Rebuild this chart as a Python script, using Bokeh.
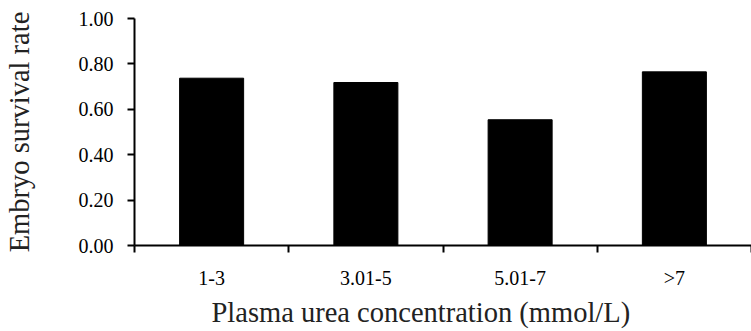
import numpy as np
from bokeh.plotting import figure
from bokeh.models import Range1d, FixedTicker, NumeralTickFormatter, ColumnDataSource, Title
from bokeh.embed import file_html
from bokeh.resources import INLINE

categories = ["1-3", "3.01-5", "5.01-7", ">7"]
survival_rate = [0.737, 0.718, 0.554, 0.765]
y_ticks = [0.0, 0.2, 0.4, 0.6, 0.8, 1.0]
x_title = "Plasma urea concentration (mmol/L)"
y_title = "Embryo survival rate"

FONT = "Liberation Serif"

x_pos = [i + 0.5 for i in range(len(categories))]
src = ColumnDataSource(dict(x=x_pos, top=survival_rate, cat=categories))

p = figure(width=751, height=331, output_backend="svg", toolbar_location=None,
           x_range=Range1d(0, len(categories)), y_range=Range1d(0, 1.0),
           min_border_left=131, min_border_right=0, min_border_top=18, min_border_bottom=86)

p.vbar(x="x", top="top", width=0.415, source=src, fill_color="black", line_color="black", line_width=1)

p.grid.visible = False
p.outline_line_color = None
p.background_fill_color = "white"
p.border_fill_color = "white"

# x axis
xa = p.xaxis[0]
xa.ticker = FixedTicker(ticks=x_pos, minor_ticks=list(range(len(categories) + 1)))
xa.major_label_overrides = {x: c for x, c in zip(x_pos, categories)}
xa.major_tick_line_color = None
xa.minor_tick_line_color = "black"
xa.minor_tick_line_width = 2
xa.minor_tick_out = 7
xa.minor_tick_in = 0
xa.axis_line_width = 2
xa.axis_line_color = "black"
xa.major_label_text_font = FONT
xa.major_label_text_font_size = "20px"
xa.major_label_text_color = "black"
xa.major_label_standoff = 14

xt = Title(text=x_title, align="left", offset=77, standoff=6,
           text_font=FONT, text_font_size="28.5px", text_font_style="normal",
           text_color="#222222")
p.add_layout(xt, "below")

# y axis
ya = p.yaxis[0]
ya.ticker = FixedTicker(ticks=y_ticks, minor_ticks=[])
ya.formatter = NumeralTickFormatter(format="0.00")
ya.major_tick_line_color = "black"
ya.major_tick_line_width = 2
ya.major_tick_out = 7
ya.major_tick_in = 0
ya.axis_line_width = 2
ya.axis_line_color = "black"
ya.major_label_text_font = FONT
ya.major_label_text_font_size = "20px"
ya.major_label_text_color = "black"
ya.major_label_standoff = 14
ya.axis_label = y_title
ya.axis_label_text_font = FONT
ya.axis_label_text_font_size = "28.5px"
ya.axis_label_text_font_style = "normal"
ya.axis_label_text_color = "#222222"
ya.axis_label_standoff = 41

open("out.html", "w").write(file_html(p, INLINE))
